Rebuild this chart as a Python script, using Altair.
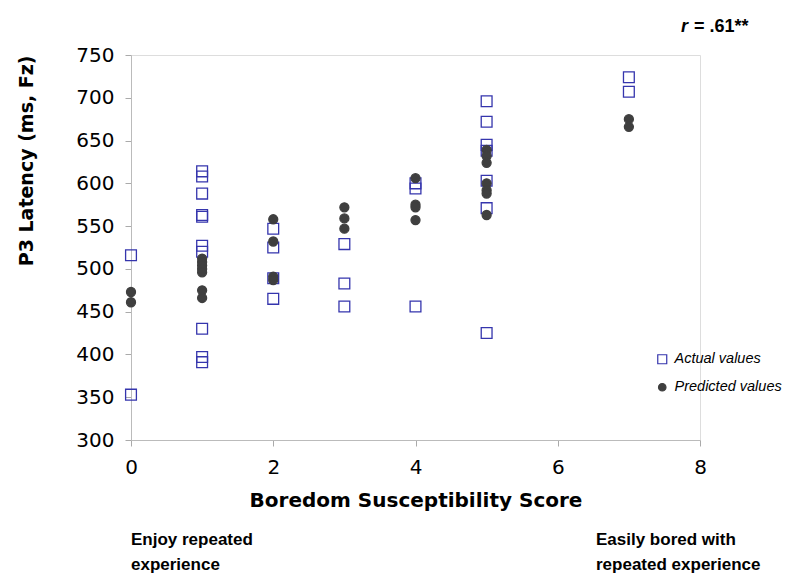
import altair as alt
import pandas as pd

# Actual values (open squares)
actual_x = [0, 0,
            1, 1, 1, 1, 1, 1, 1, 1, 1, 1,
            2, 2, 2, 2,
            3, 3, 3,
            4, 4, 4,
            5, 5, 5, 5, 5, 5, 5,
            7, 7]
actual_y = [516, 353,
            614, 608, 588, 563, 561, 527, 520, 430, 397, 391,
            547, 525, 489, 465,
            529, 483, 456,
            600, 594, 456,
            696, 672, 645, 638, 603, 571, 425,
            724, 707]

# Predicted values (filled circles)
pred_x = [0, 0,
          1, 1, 1, 1, 1, 1, 1,
          2, 2, 2, 2,
          3, 3, 3,
          4, 4, 4, 4,
          5, 5, 5, 5, 5, 5, 5,
          7, 7]
pred_y = [473, 461,
          512, 508, 504, 500, 496, 475, 466,
          558, 532, 491, 487,
          572, 559, 547,
          606, 575, 572, 557,
          639, 632, 624, 600, 592, 588, 563,
          675, 666]

series = ["Actual values", "Predicted values"]
x_ticks = [0, 2, 4, 6, 8]
y_ticks = [300, 350, 400, 450, 500, 550, 600, 650, 700, 750]

df = pd.DataFrame({
    "score": actual_x + pred_x,
    "latency": actual_y + pred_y,
    "series": [series[0]] * len(actual_x) + [series[1]] * len(pred_x),
})

leg = alt.Legend(title=None, orient="none", legendX=524, legendY=297,
                 labelFont="Liberation Sans", labelFontSize=14.5, labelFontStyle="italic",
                 labelColor="black", symbolSize=56, rowPadding=12, labelOffset=5,
                 padding=0, symbolStrokeWidth=1.2)

points = alt.Chart(df).mark_point(size=81, strokeWidth=1.3, opacity=1, fillOpacity=1).encode(
    x=alt.X("score:Q", scale=alt.Scale(domain=[0, 8], nice=False),
            axis=alt.Axis(values=x_ticks, title="Boredom Susceptibility Score", grid=False,
                          labelFont="DejaVu Sans", labelFontSize=20, labelColor="black",
                          labelFlush=False, labelPadding=11, tickSize=6, tickColor="#aaaaaa",
                          domainColor="#bbbbbb", titleFont="DejaVu Sans", titleFontSize=20,
                          titleFontWeight="bold", titleColor="black", titlePadding=13)),
    y=alt.Y("latency:Q", scale=alt.Scale(domain=[300, 750], nice=False, zero=False),
            axis=alt.Axis(values=y_ticks, title="P3 Latency (ms, Fz)", grid=False,
                          labelFont="DejaVu Sans", labelFontSize=20, labelColor="black",
                          labelPadding=11, tickSize=6, tickColor="#aaaaaa",
                          domainColor="#bbbbbb", titleFont="DejaVu Sans", titleFontSize=19,
                          titleFontWeight="bold", titleColor="black", titlePadding=39,
                          titleAnchor="end")),
    shape=alt.Shape("series:N", scale=alt.Scale(domain=series,
                    range=["M-1.2,-1.2H1.2V1.2H-1.2Z", "circle"]), legend=leg),
    stroke=alt.Stroke("series:N", scale=alt.Scale(domain=series, range=["#3535ad", "#3f3f3f"]),
                      legend=leg),
    fill=alt.Fill("series:N", scale=alt.Scale(domain=series, range=["transparent", "#3f3f3f"]),
                  legend=leg),
)

ann = pd.DataFrame({"t": [0]})
r_it = alt.Chart(ann).mark_text(text="r", font="Liberation Sans", fontSize=18, fontWeight="bold",
                                fontStyle="italic", align="left", baseline="middle",
                                color="black").encode(x=alt.value(550), y=alt.value(-28))
r_val = alt.Chart(ann).mark_text(text="= .61**", font="Liberation Sans", fontSize=18,
                                 fontWeight="bold", align="left", baseline="middle",
                                 color="black").encode(x=alt.value(563), y=alt.value(-28))
left_note = alt.Chart(ann).mark_text(text=["Enjoy repeated", "experience"], font="Liberation Sans",
                                     fontSize=17, fontWeight="bold", align="left",
                                     baseline="middle", lineHeight=25,
                                     color="black").encode(x=alt.value(0), y=alt.value(485))
right_note = alt.Chart(ann).mark_text(text=["Easily bored with", "repeated experience"],
                                      font="Liberation Sans", fontSize=17, fontWeight="bold",
                                      align="left", baseline="middle", lineHeight=25,
                                      color="black").encode(x=alt.value(465), y=alt.value(485))

chart = alt.layer(points, r_it, r_val, left_note, right_note).properties(
    width=569, height=385,
    autosize=alt.AutoSizeParams(type="none"),
    padding={"left": 123, "top": 47, "right": 92, "bottom": 139},
).configure_view(stroke=None).configure(background="white")

chart.save("out.html", embed_options={"renderer": "svg", "actions": False})
